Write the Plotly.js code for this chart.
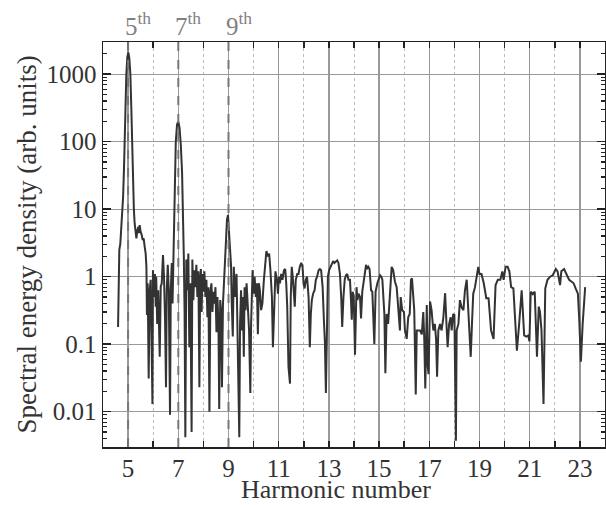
<!DOCTYPE html>
<html>
<head>
<meta charset="utf-8">
<script src="https://cdn.plot.ly/plotly-3.0.1.min.js"></script>
<style>html,body{margin:0;padding:0;background:#fff;}#chart{width:606px;height:505px;}</style>
</head>
<body>
<div id="chart"></div>
<script>
// Harmonic number (x) and spectral energy density (y, arb. units)
const harmonicNumber = [
4.60,4.63,4.65,4.69,4.73,4.77,4.80,4.84,4.88,4.93,4.97,5.01,5.05,5.09,5.13,5.17,5.20,5.23,5.26,5.30,
5.33,5.37,5.41,5.43,5.46,5.50,5.54,5.58,5.62,5.66,5.70,5.73,5.75,5.78,5.82,5.86,5.90,5.94,5.97,5.99,
6.03,6.07,6.10,6.12,6.16,6.20,6.26,6.30,6.34,6.39,6.43,6.47,6.51,6.54,6.58,6.62,6.67,6.70,6.74,6.77,
6.80,6.83,6.86,6.90,6.95,7.00,7.05,7.10,7.15,7.19,7.22,7.25,7.28,7.32,7.36,7.40,7.44,7.48,7.53,7.56,
7.60,7.64,7.68,7.72,7.76,7.80,7.84,7.87,7.90,7.93,7.96,8.00,8.04,8.08,8.12,8.16,8.20,8.24,8.28,8.32,
8.36,8.40,8.44,8.48,8.52,8.56,8.60,8.63,8.67,8.71,8.74,8.78,8.82,8.86,8.90,8.94,8.98,9.02,9.06,9.10,
9.13,9.17,9.21,9.27,9.32,9.35,9.39,9.43,9.46,9.50,9.54,9.57,9.61,9.64,9.68,9.72,9.77,9.82,9.87,9.90,
9.96,10.00,10.04,10.09,10.13,10.17,10.21,10.25,10.30,10.35,10.41,10.46,10.51,10.57,10.62,10.67,10.73,10.77,10.81,10.84,
10.87,10.93,10.97,11.01,11.05,11.10,11.15,11.21,11.26,11.30,11.34,11.39,11.45,11.48,11.52,11.56,11.60,11.64,11.68,11.74,
11.79,11.84,11.90,11.95,11.99,12.03,12.08,12.13,12.19,12.24,12.28,12.32,12.37,12.43,12.48,12.53,12.59,12.64,12.69,12.75,
12.80,12.84,12.88,12.92,12.96,13.01,13.06,13.12,13.17,13.22,13.28,13.33,13.38,13.44,13.49,13.53,13.58,13.63,13.68,13.73,
13.78,13.84,13.88,13.91,13.95,13.99,14.04,14.10,14.14,14.18,14.24,14.28,14.33,14.40,14.48,14.52,14.57,14.62,14.68,14.73,
14.81,14.86,14.93,15.04,15.09,15.13,15.21,15.25,15.30,15.36,15.43,15.50,15.56,15.63,15.70,15.77,15.83,15.86,15.92,15.99,
16.03,16.10,16.16,16.22,16.27,16.31,16.36,16.40,16.46,16.50,16.56,16.63,16.70,16.76,16.80,16.84,16.90,16.93,16.97,17.03,
17.09,17.16,17.22,17.27,17.31,17.36,17.43,17.49,17.56,17.63,17.69,17.73,17.79,17.85,17.89,17.95,18.00,18.06,18.09,18.16,
18.22,18.29,18.36,18.42,18.49,18.55,18.59,18.65,18.70,18.75,18.82,18.89,18.95,19.00,19.08,19.17,19.27,19.36,19.46,19.56,
19.64,19.73,19.83,19.91,19.96,20.04,20.12,20.19,20.26,20.35,20.45,20.49,20.58,20.68,20.78,20.86,20.94,20.99,21.04,21.12,
21.20,21.29,21.36,21.41,21.47,21.55,21.62,21.71,21.81,21.92,22.04,22.11,22.21,22.26,22.37,22.47,22.57,22.66,22.75,22.83,
22.92,22.97,23.04,23.11,23.21
];
const spectralDensity = [
0.18,1.0,2.5,3.1,4.9,7.8,15,45,200,1000,1800,2100,1700,1000,300,60,20,10,6.2,4.2,
3.7,4.9,5.5,4.4,5.8,4.6,4.2,3.5,3.7,2.8,2.2,1.4,0.27,0.8,0.031,0.63,0.9,0.08,0.013,1.25,
0.5,1.1,0.36,1.0,0.2,0.63,0.065,0.71,0.8,2.1,1.0,0.25,0.023,0.63,1.5,0.63,0.009,0.63,1.6,0.4,
1.4,8,30,100,180,200,160,90,35,10,2,0.3,0.0042,1.8,0.63,2.2,0.09,0.8,0.005,1.8,
0.45,1.25,0.7,1.5,0.5,1.2,0.023,0.9,1.3,0.3,1.1,0.6,1.2,0.5,0.9,0.25,0.7,0.01,0.6,0.8,
0.3,0.6,0.4,0.7,0.15,0.5,0.2,0.011,0.45,0.3,0.023,0.4,0.9,2.5,4.5,7,8.2,5,2.5,1.5,
0.4,0.13,1.4,0.5,1.1,0.25,0.05,0.0042,0.2,0.63,0.16,0.5,0.065,0.7,0.32,0.8,0.36,0.16,0.019,0.2,
1.25,0.56,1.0,0.5,0.8,0.14,0.8,0.63,0.32,0.4,0.9,1.8,2.4,2.0,2.2,1.25,0.5,0.09,0.25,0.63,
1.2,0.9,0.56,1.0,0.8,1.1,0.9,1.25,1.3,0.8,0.36,0.046,0.026,0.5,1.4,1.0,0.5,0.36,0.9,1.1,
1.1,1.4,1.6,1.4,0.8,0.67,0.9,1.0,0.5,0.09,0.28,0.45,0.56,0.63,0.9,1.0,1.25,1.3,1.25,0.7,
0.23,0.11,0.019,0.2,1.0,1.25,1.4,1.6,1.7,1.6,1.7,1.75,1.6,1.1,0.5,0.18,0.5,0.9,1.05,1.1,
0.9,0.9,0.45,0.23,0.6,0.5,0.07,0.7,0.45,0.56,0.5,0.24,0.6,0.95,1.5,1.3,1.4,1.3,0.63,0.6,
0.1,0.6,0.8,1.05,1.0,0.9,0.28,0.037,0.28,0.2,0.63,1.4,1.25,0.85,0.7,0.36,0.16,0.5,0.32,0.3,
0.16,0.12,0.25,0.28,0.9,0.95,0.5,0.32,0.018,0.16,0.16,0.16,0.14,0.3,0.12,0.022,0.38,0.05,0.036,0.43,
0.32,0.16,0.2,0.12,0.033,0.16,0.2,0.16,0.25,0.57,0.18,0.09,0.2,0.25,0.16,0.28,0.27,0.0037,0.16,0.2,
0.45,0.35,0.32,0.63,0.9,0.36,0.16,0.065,0.2,0.56,0.7,1.1,1.4,1.1,1.1,0.8,0.48,0.48,0.16,0.12,
0.75,0.9,0.9,1.2,0.9,1.4,1.4,1.2,0.7,0.67,0.13,0.08,0.2,0.63,0.135,0.13,0.135,0.11,0.6,0.55,
0.6,0.065,0.36,0.3,0.16,0.013,0.67,0.9,1.0,1.05,1.3,1.2,0.75,1.2,1.3,1.1,0.9,0.85,0.8,0.67,
0.56,0.25,0.055,0.2,0.7
];
const markedHarmonics = [5, 7, 9];
const xTickVals = [5, 7, 9, 11, 13, 15, 17, 19, 21, 23];
const yTickVals = [0.01, 0.1, 1, 10, 100, 1000];
const yTickText = ['0.01', '0.1', '1', '10', '100', '1000'];
const xTitle = 'Harmonic number';
const yTitle = 'Spectral energy density (arb. units)';

const FONT = 'Liberation Serif, Times New Roman, serif';
const TXT = '#333';

const trace = {
  x: harmonicNumber, y: spectralDensity, type: 'scatter', mode: 'lines',
  line: {color: '#333', width: 2}, hoverinfo: 'skip', showlegend: false
};

const shapes = markedHarmonics.map(h => ({
  type: 'line', xref: 'x', yref: 'paper', x0: h, x1: h, y0: 0, y1: 1,
  line: {color: '#777', width: 2, dash: 'dash'}, layer: 'above'
}));

const annotations = markedHarmonics.map(h => ({
  x: h, xref: 'x', y: 1, yref: 'paper', xanchor: 'left', yanchor: 'bottom', xshift: -5, yshift: 0,
  text: h + '<sup>th</sup>', showarrow: false,
  font: {family: FONT, size: 25, color: '#808080'}
}));
annotations.push({
  x: 0.5, xref: 'paper', y: 0, yref: 'paper', xanchor: 'center', yanchor: 'bottom',
  xshift: -18, yshift: -58, borderpad: 0, text: xTitle, showarrow: false,
  font: {family: FONT, size: 26, color: TXT}
});
annotations.push({
  x: 0, xref: 'paper', y: 0.5, yref: 'paper', xanchor: 'center', yanchor: 'middle',
  xshift: -77, textangle: -90, text: yTitle, showarrow: false,
  font: {family: FONT, size: 27, color: TXT}
});

const layout = {
  width: 606, height: 505,
  margin: {l: 103, r: 1, t: 42, b: 58, pad: 0},
  paper_bgcolor: '#fff', plot_bgcolor: '#fff',
  font: {family: FONT, color: TXT},
  xaxis: {
    range: [4, 24], tickmode: 'array', tickvals: xTickVals,
    ticks: 'inside', ticklen: 6, tickwidth: 1.5, tickcolor: '#222', ticklabelstandoff: -2,
    showline: true, linecolor: '#222', linewidth: 1.5, mirror: 'ticks',
    showgrid: true, gridcolor: '#999', gridwidth: 1.3, zeroline: false,
    tickfont: {family: FONT, size: 25, color: TXT},
    minor: {dtick: 1, tick0: 0, ticks: 'inside', ticklen: 6, tickwidth: 1.5, tickcolor: '#222',
            showgrid: true, gridcolor: '#bbb', griddash: 'dot', gridwidth: 1}
  },
  yaxis: {
    type: 'log', range: [Math.log10(0.003), Math.log10(3000)],
    tickmode: 'array', tickvals: yTickVals, ticktext: yTickText,
    ticks: 'inside', ticklen: 8, tickwidth: 1.5, tickcolor: '#222',
    showline: true, linecolor: '#222', linewidth: 1.5, mirror: 'ticks',
    showgrid: true, gridcolor: '#999', gridwidth: 1.3, zeroline: false,
    tickfont: {family: FONT, size: 25, color: TXT},
    minor: {dtick: 'D1', ticks: 'inside', ticklen: 4, tickwidth: 1.2, tickcolor: '#222', showgrid: false}
  },
  shapes: shapes,
  annotations: annotations
};

Plotly.newPlot('chart', [trace], layout, {staticPlot: true, displayModeBar: false});
</script>
</body>
</html>
